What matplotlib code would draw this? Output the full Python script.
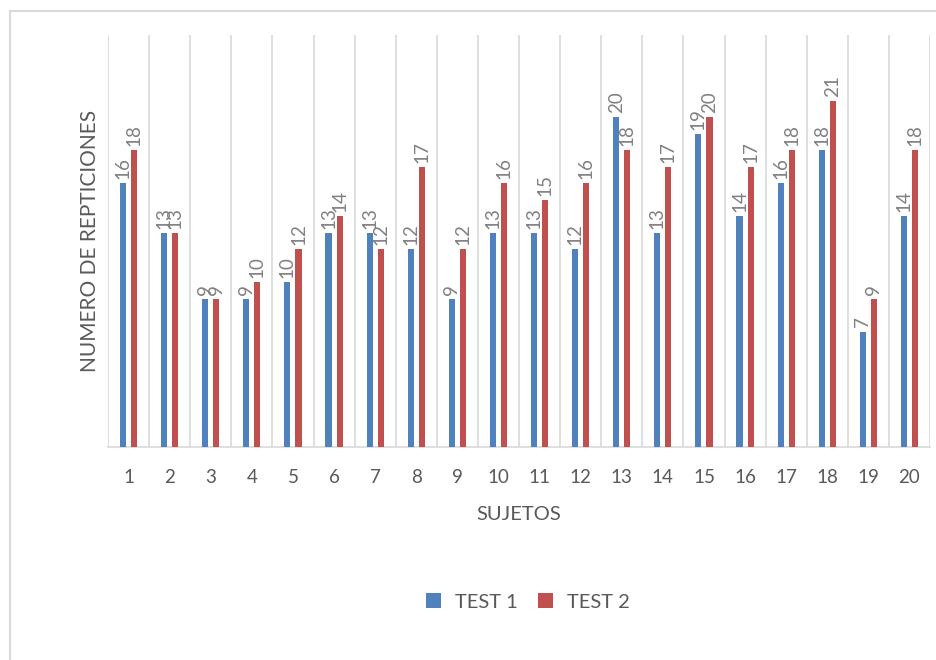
import numpy as np
import matplotlib
matplotlib.use('Agg')
import matplotlib.pyplot as plt
from matplotlib.patches import Rectangle

plt.rcParams['font.family'] = ['Lato', 'DejaVu Sans']

sujetos = [str(i) for i in range(1, 21)]
test1 = [16, 13, 9, 9, 10, 13, 13, 12, 9, 13, 13, 12, 20, 13, 19, 14, 16, 18, 7, 14]
test2 = [18, 13, 9, 10, 12, 14, 12, 17, 12, 16, 15, 16, 18, 17, 20, 17, 18, 21, 9, 18]

blue = '#4F81BD'
red = '#C0504D'
grid = '#D9D9D9'
txt = '#595959'
lbl = '#808080'

fig = plt.figure(figsize=(9.36, 6.6), dpi=100)
ax = fig.add_axes([108 / 936, 1 - 447 / 660, 822 / 936, 412 / 660])

# outer frame of the chart (cropped on right/bottom)
fig.patches.append(Rectangle((10 / 936, -0.1), 1.2, 0.1 + (660 - 11) / 660,
                             transform=fig.transFigure, fill=False,
                             edgecolor=grid, linewidth=1.5))

x = np.arange(len(sujetos))
w = 0.15
off = 0.135
b1 = ax.bar(x - off, test1, w, color=blue, label='TEST 1', zorder=3)
b2 = ax.bar(x + off, test2, w, color=red, label='TEST 2', zorder=3)

for bars, vals in ((b1, test1), (b2, test2)):
    for b, v in zip(bars, vals):
        ax.annotate(str(v), (b.get_x() + b.get_width() / 2, v),
                    xytext=(0, 3), textcoords='offset points',
                    ha='center', va='bottom', rotation=90,
                    fontsize=13.5, color=lbl)

ax.set_xlim(-0.5, len(sujetos) - 0.5)
ax.set_ylim(0, 25)
ax.set_xticks(x)
ax.set_xticklabels(sujetos, fontsize=13.5, color=txt)
ax.tick_params(axis='x', length=0, pad=16)
ax.set_yticks([])

for xv in np.arange(-0.5, len(sujetos), 1.0):
    ax.axvline(xv, color=grid, linewidth=1.2, zorder=1)

for s in ('top', 'right', 'left'):
    ax.spines[s].set_visible(False)
ax.spines['bottom'].set_color(grid)
ax.spines['bottom'].set_linewidth(1.2)

ax.set_xlabel('SUJETOS', fontsize=14.5, color=txt, labelpad=14)
ax.set_ylabel('NUMERO DE REPTICIONES', fontsize=15, color=txt, labelpad=6)

fig.legend(handles=[b1, b2], loc='center', bbox_to_anchor=(528 / 936, 1 - 602 / 660),
           ncol=2, frameon=False, fontsize=14.5, labelcolor=txt,
           handlelength=0.75, handleheight=0.75, columnspacing=1.0, handletextpad=0.7)

fig.savefig('out.png', dpi=100)
